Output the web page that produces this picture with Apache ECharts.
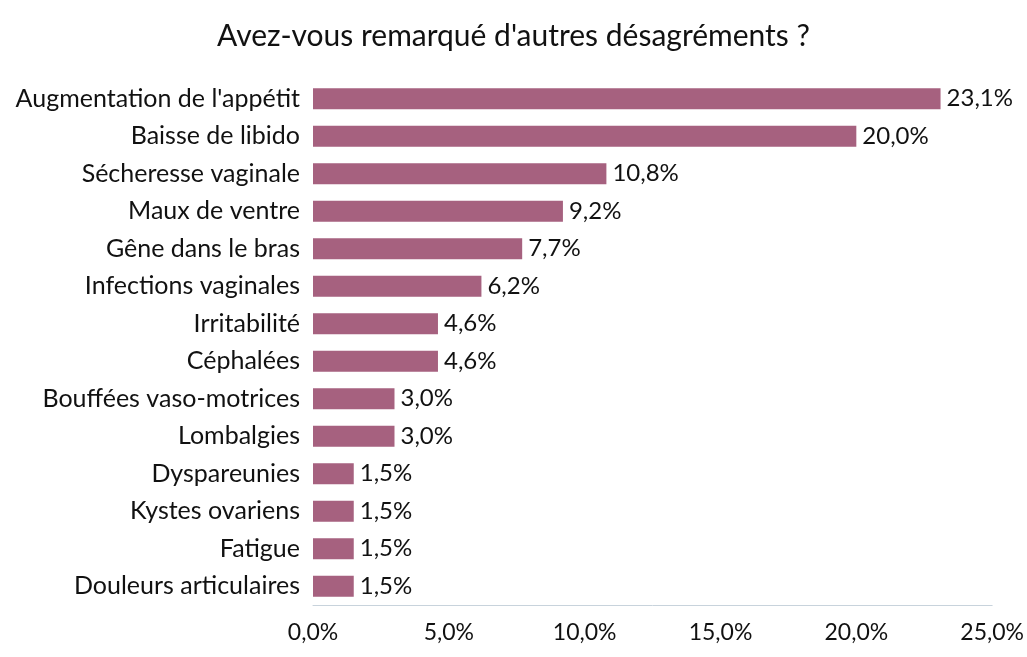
<!DOCTYPE html>
<html>
<head>
<meta charset="utf-8">
<title></title>
<script src="https://cdn.jsdelivr.net/npm/echarts@6/dist/echarts.min.js"></script>
<style>
  html, body { margin: 0; padding: 0; background: #fff; }
  #main { width: 1027px; height: 657px; }
</style>
</head>
<body>
<div id="main"></div>
<script>
var categories = ["Augmentation de l'appétit", 'Baisse de libido', 'Sécheresse vaginale', 'Maux de ventre',
  'Gêne dans le bras', 'Infections vaginales', 'Irritabilité', 'Céphalées', 'Bouffées vaso-motrices',
  'Lombalgies', 'Dyspareunies', 'Kystes ovariens', 'Fatigue', 'Douleurs articulaires'];
var values = [23.1, 20.0, 10.8, 9.2, 7.7, 6.2, 4.6, 4.6, 3.0, 3.0, 1.5, 1.5, 1.5, 1.5];
var ticks = [0, 5, 10, 15, 20, 25];

function pct(v) {
  return v.toFixed(1).replace('.', ',') + '%';
}

var myChart = echarts.init(document.getElementById('main'));
var font = 'Lato, "Open Sans", sans-serif';

var option = {
  backgroundColor: '#ffffff',
  animation: false,
  title: {
    text: 'Avez-vous remarqué d\'autres désagréments ?',
    left: 'center',
    top: 16,
    textStyle: { fontFamily: font, fontSize: 30, fontWeight: 'normal', color: '#111' }
  },
  grid: { left: 313, right: 34, top: 80, bottom: 52 },
  xAxis: {
    type: 'value',
    min: ticks[0],
    max: ticks[ticks.length - 1],
    interval: 5,
    axisLine: { show: true, lineStyle: { color: '#c8d3dc', width: 1 } },
    axisTick: { show: false },
    splitLine: { show: false },
    axisLabel: {
      margin: 16,
      fontFamily: font,
      fontSize: 23,
      color: '#111',
      formatter: function (v) { return pct(v); }
    }
  },
  yAxis: {
    type: 'category',
    inverse: true,
    data: categories,
    axisLine: { show: false },
    axisTick: { show: false },
    axisLabel: { margin: 13, fontFamily: font, fontSize: 25, color: '#111' }
  },
  series: [{
    type: 'bar',
    data: values,
    barWidth: 21,
    itemStyle: { color: '#a6617f' },
    label: {
      show: true,
      position: 'right',
      distance: 6,
      fontFamily: font,
      fontSize: 24,
      color: '#111',
      formatter: function (p) { return pct(p.value); }
    }
  }]
};

myChart.setOption(option);
</script>
</body>
</html>
